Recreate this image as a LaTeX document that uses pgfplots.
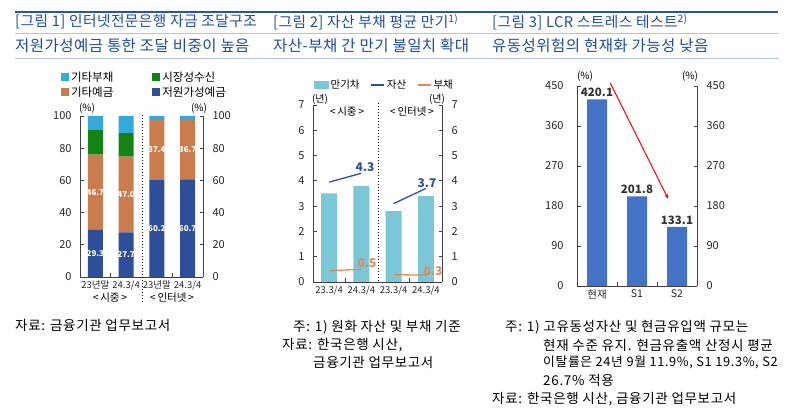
\documentclass[border=0pt]{standalone}
\usepackage{fontspec}
\setmainfont{Noto Sans CJK KR}
\newfontfamily\ttlfont{Noto Sans CJK KR}[LetterSpace=3]
\newfontfamily\notefont{Noto Sans CJK KR}[LetterSpace=5]
\usepackage{pgfplots}
\pgfplotsset{compat=1.18}
\usetikzlibrary{arrows.meta}
\definecolor{ttl}{HTML}{1F4E99}
\definecolor{hl}{HTML}{2F5597}
\definecolor{hl2}{HTML}{B4C4E0}
\definecolor{cA}{HTML}{33AADB}
\definecolor{cB}{HTML}{138413}
\definecolor{cC}{HTML}{C97D4E}
\definecolor{cD}{HTML}{2E4E9A}
\definecolor{cBar2}{HTML}{7CC7D7}
\definecolor{cAsset}{HTML}{2F4F9F}
\definecolor{cDebt}{HTML}{DC8A5E}
\definecolor{cBar3}{HTML}{4472C4}
\definecolor{axc}{HTML}{404040}
\tikzset{wl/.style={text=white, font=\fontsize{8}{9}\selectfont\bfseries},
  tt/.style={anchor=west, text=ttl, inner sep=0pt, font=\ttlfont\fontsize{14.7}{16}\selectfont},
  st/.style={anchor=west, text=ttl, inner sep=0pt, font=\ttlfont\fontsize{15.5}{16}\selectfont},
  nt/.style={anchor=west, inner sep=0pt, font=\notefont\fontsize{13.5}{14}\selectfont}}
\pgfplotsset{
  base/.style={scale only axis, /pgf/number format/assume math mode=true,
    tick label style={font=\fontsize{11}{12}\selectfont, text=black!85},
    axis line style={axc, line width=0.8pt},
    tick style={axc, line width=0.8pt},
    major tick length=3.5pt, minor tick length=4pt,
    tick align=inside,
    clip=false,
  },
  leftax/.style={base, axis x line*=bottom, axis y line*=left, tick align=inside,
    yticklabel style={xshift=-5pt},
    x tick label style={font=\fontsize{9.5}{10}\selectfont},
    major x tick style={draw=none}},
  rightax/.style={base, axis y line*=right, axis x line=none, tick align=inside,
    yticklabel style={xshift=6pt}},
  sq/.style={legend image code/.code={\fill[##1] (0pt,-4pt) rectangle (8pt,4pt);}},
  rc/.style={legend image code/.code={\fill[##1] (0pt,-4pt) rectangle (15pt,4pt);}},
  ln/.style={legend image code/.code={\draw[##1] (0pt,0pt) -- (13pt,0pt);}},
}
\begin{document}
\begin{tikzpicture}[x=1pt,y=1pt]
\path[use as bounding box] (0,0) rectangle (800,420);
% ---------- header ----------
\draw[hl, line width=1.4pt] (15,408) -- (778,408);
\draw[hl2, line width=0.8pt] (15,387) -- (778,387);
\draw[hl2, line width=0.8pt] (15,362) -- (778,362);
\node[tt] at (15,398) {[그림 1] 인터넷전문은행 자금 조달구조};
\node[tt] at (273,398) {[그림 2] 자산 부채 평균 만기\textsuperscript{1)}};
\node[tt] at (492,398) {[그림 3] LCR 스트레스 테스트\textsuperscript{2)}};
\node[st] at (15,374) {저원가성예금 통한 조달 비중이 높음};
\node[st] at (273,374) {자산-부채 간 만기 불일치 확대};
\node[st] at (492,374) {유동성위험의 현재화 가능성 낮음};

% ---------- panel 1 ----------
\begin{axis}[leftax, at={(80pt,143pt)}, anchor=south west, width=123pt, height=161pt,
  ybar stacked, bar width=15pt,
  xmin=-0.5, xmax=3.5, ymin=0, ymax=100, ytick={0,20,...,100},
  xtick={0,1,2,3}, xticklabels={23년말,24.3/4,23년말,24.3/4},
  minor xtick={0.5,2.5},
  reverse legend, legend columns=2,
  legend style={at={(-0.18,1.30)}, anchor=north west, draw=none, fill=none,
    font=\fontsize{11.5}{12}\selectfont,
    /tikz/every even column/.append style={column sep=37pt}},
  legend cell align=left]
\addplot[fill=cD, draw=none, sq] coordinates {(0,29.3) (1,27.7) (2,60.2) (3,60.7)};
\addlegendentry{저원가성예금}
\addplot[fill=cC, draw=none, sq] coordinates {(0,46.7) (1,47.0) (2,37.4) (3,36.7)};
\addlegendentry{기타예금}
\addplot[fill=cB, draw=none, sq] coordinates {(0,15.3) (1,14.7) (2,0) (3,0)};
\addlegendentry{시장성수신}
\addplot[fill=cA, draw=none, sq] coordinates {(0,8.7) (1,10.6) (2,2.4) (3,2.6)};
\addlegendentry{기타부채}
\end{axis}
\begin{axis}[rightax, at={(80pt,143pt)}, anchor=south west, width=123pt, height=161pt,
  xmin=-0.5, xmax=3.5, ymin=0, ymax=100, ytick={0,20,...,100}]
\addplot[draw=none, mark=none, forget plot] coordinates {(0,0) (3,0)};
\end{axis}
\begin{axis}[scale only axis, hide axis, clip=false, at={(80pt,143pt)}, anchor=south west, width=123pt, height=161pt,
  xmin=-0.5, xmax=3.5, ymin=0, ymax=100]
\addplot[draw=none, mark=none, forget plot] coordinates {(0,0) (3,0)};
\node[wl] at (axis cs:0,14.65) {29.3};
\node[wl] at (axis cs:1,13.85) {27.7};
\node[wl] at (axis cs:2,30.1) {60.2};
\node[wl] at (axis cs:3,30.35) {60.7};
\node[wl] at (axis cs:0,52.65) {46.7};
\node[wl] at (axis cs:1,51.2) {47.0};
\node[wl] at (axis cs:2,78.9) {37.4};
\node[wl] at (axis cs:3,79.05) {36.7};
\end{axis}
\node[font=\fontsize{10}{11}\selectfont] at (87,312) {(\%)};
\node[font=\fontsize{10}{11}\selectfont] at (199,312) {(\%)};
\draw[black, line width=0.6pt, dash pattern=on 1.5pt off 1.5pt] (142,305) -- (142,118);
\node[font=\fontsize{10.5}{11}\selectfont] at (110,122) {<\,시중\,>};
\node[font=\fontsize{10.5}{11}\selectfont] at (172,122) {<\,인터넷\,>};

% ---------- panel 2 ----------
\begin{axis}[leftax, at={(313pt,138pt)}, anchor=south west, width=129pt, height=177pt,
  xmin=-0.5, xmax=3.5, ymin=0, ymax=7, ytick={0,...,7},
  xtick={0,1,2,3}, xticklabels={23.3/4,24.3/4,23.3/4,24.3/4},
  minor xtick={0.5,2.5},
  legend columns=3,
  legend style={at={(-0.02,1.113)}, anchor=west, draw=none, fill=none,
    font=\fontsize{10.5}{11}\selectfont,
    /tikz/every even column/.append style={column sep=9pt}},
  legend cell align=left]
\addplot[ybar, bar width=16pt, fill=cBar2, draw=none, rc] coordinates {(0,3.5) (1,3.8) (2,2.8) (3,3.4)};
\addlegendentry{만기차}
\addplot[cAsset, line width=1.3pt, ln] coordinates {(0,3.95) (1,4.3)};
\addlegendentry{자산}
\addplot[cAsset, line width=1.3pt, forget plot] coordinates {(2,3.1) (3,3.7)};
\addplot[cDebt, line width=1.3pt, ln] coordinates {(0,0.45) (1,0.5)};
\addlegendentry{부채}
\addplot[cDebt, line width=1.3pt, forget plot] coordinates {(2,0.29) (3,0.27)};
\end{axis}
\begin{axis}[rightax, at={(313pt,138pt)}, anchor=south west, width=129pt, height=177pt,
  xmin=-0.5, xmax=3.5, ymin=0, ymax=7, ytick={0,...,7}]
\addplot[draw=none, mark=none, forget plot] coordinates {(0,0) (3,0)};
\end{axis}
\node[font=\fontsize{10}{11}\selectfont] at (320,321) {(년)};
\node[font=\fontsize{10}{11}\selectfont] at (437,321) {(년)};
\node[font=\fontsize{10.5}{11}\selectfont] at (347,308) {<\,시중\,>};
\node[font=\fontsize{10.5}{11}\selectfont] at (412,308) {<\,인터넷\,>};
\draw[black, line width=0.6pt, dash pattern=on 1.5pt off 1.5pt] (378,317) -- (378,138);
\node[text=cAsset, font=\fontsize{12}{13}\selectfont\bfseries] at (365,253) {4.3};
\node[text=cAsset, font=\fontsize{12}{13}\selectfont\bfseries] at (427,237) {3.7};
\node[text=cDebt, font=\fontsize{12}{13}\selectfont\bfseries] at (367,157) {0.5};
\node[text=cDebt, font=\fontsize{12}{13}\selectfont\bfseries] at (433,149) {0.3};

% ---------- panel 3 ----------
\begin{axis}[leftax, at={(577pt,134pt)}, anchor=south west, width=120pt, height=200pt,
  xmin=-0.5, xmax=2.5, ymin=0, ymax=450, ytick={0,90,...,450},
  xtick={0,1,2}, xticklabels={현재,S1,S2}, minor xtick={0.5,1.5},
  x tick label style={font=\fontsize{10.5}{11}\selectfont},
  yticklabel style={xshift=-5pt}]
\addplot[ybar, bar width=20pt, fill=cBar3, draw=none,
  nodes near coords, point meta=explicit symbolic,
  every node near coord/.style={font=\fontsize{11.5}{12}\selectfont\bfseries, text=black!80, anchor=south, inner sep=2pt}]
  coordinates {(0,420.1) [420.1] (1,201.8) [201.8] (2,133.1) [133.1]};
\draw[red, line width=1pt, -{Stealth[length=5pt]}] (axis cs:0.33,457) -- (axis cs:1.78,196);
\end{axis}
\begin{axis}[rightax, at={(577pt,134pt)}, anchor=south west, width=120pt, height=200pt,
  xmin=-0.5, xmax=2.5, ymin=0, ymax=450, ytick={0,90,...,450}]
\addplot[draw=none, mark=none, forget plot] coordinates {(0,0) (2,0)};
\end{axis}
\node[font=\fontsize{10}{11}\selectfont] at (585,344) {(\%)};
\node[font=\fontsize{10}{11}\selectfont] at (690,344) {(\%)};

% ---------- notes ----------
\node[nt] at (15,95) {자료: 금융기관 업무보고서};
\node[nt] at (293,93) {주: 1) 원화 자산 및 부채 기준};
\node[nt] at (282,75) {자료: 한국은행 시산,};
\node[nt] at (313,58) {금융기관 업무보고서};
\node[nt] at (505,93) {주: 1) 고유동성자산 및 현금유입액 규모는};
\node[nt] at (543,75) {현재 수준 유지. 현금유출액 산정시 평균};
\node[nt, font=\notefont\fontsize{12.8}{14}\selectfont] at (543,58) {이탈률은 24년 9월 11.9\%, S1 19.3\%, S2};
\node[nt] at (543,40) {26.7\% 적용};
\node[nt] at (492,21) {자료: 한국은행 시산, 금융기관 업무보고서};
\end{tikzpicture}
\end{document}
